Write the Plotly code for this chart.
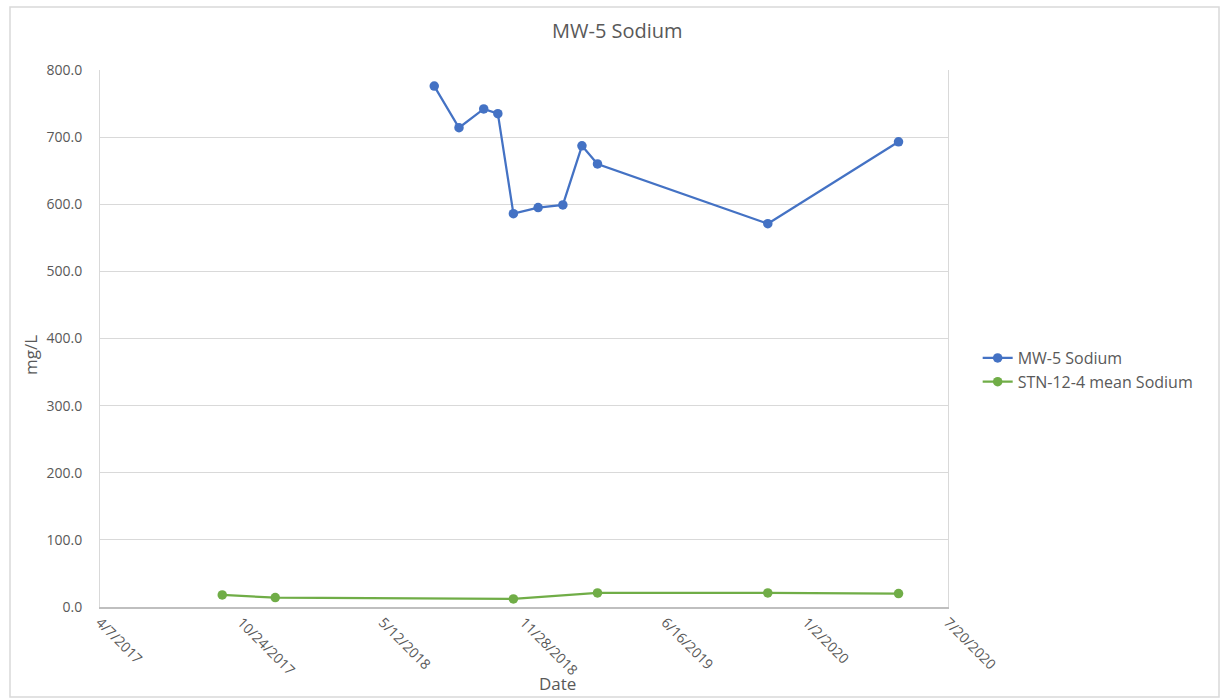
import plotly.graph_objects as go

# MW-5 sodium samples
mw5_dates = ["2018-07-24", "2018-08-28", "2018-10-02", "2018-10-22", "2018-11-13",
             "2018-12-18", "2019-01-22", "2019-02-18", "2019-03-12", "2019-11-08",
             "2020-05-11"]
mw5_sodium = [776, 714, 742, 735, 586, 595, 599, 687, 660, 571, 693]

# STN-12-4 mean sodium
stn_dates = ["2017-09-27", "2017-12-11", "2018-11-13", "2019-03-12", "2019-11-08",
             "2020-05-11"]
stn_sodium = [18, 14, 12, 21, 21, 20]

# Date axis ticks (every 200 days)
x_tickvals = ["2017-04-07", "2017-10-24", "2018-05-12", "2018-11-28", "2019-06-16",
              "2020-01-02", "2020-07-20"]
x_ticktext = ["4/7/2017", "10/24/2017", "5/12/2018", "11/28/2018", "6/16/2019",
              "1/2/2020", "7/20/2020"]
y_tickvals = [0, 100, 200, 300, 400, 500, 600, 700, 800]

FONT = "Open Sans, Noto Sans, sans-serif"
GRAY = "#595959"

fig = go.Figure()
fig.add_trace(go.Scatter(
    x=mw5_dates, y=mw5_sodium, mode="lines+markers", name="MW-5 Sodium",
    line=dict(color="#4472C4", width=2.25),
    marker=dict(color="#4472C4", size=9.5),
))
fig.add_trace(go.Scatter(
    x=stn_dates, y=stn_sodium, mode="lines+markers", name="STN-12-4 mean Sodium",
    line=dict(color="#70AD47", width=2.25),
    marker=dict(color="#70AD47", size=9.5),
))

fig.update_layout(
    width=1220, height=698,
    margin=dict(l=100, r=272, t=70, b=91),
    paper_bgcolor="white", plot_bgcolor="white",
    font=dict(family=FONT, color=GRAY, size=13),
    title=dict(text="MW-5 Sodium", x=0.506, xanchor="center", y=0.955, yanchor="middle",
               font=dict(family=FONT, size=20, color=GRAY)),
    showlegend=True,
    legend=dict(x=1.035, xanchor="left", y=(607 - 370) / 537, yanchor="middle",
                font=dict(family=FONT, size=16, color=GRAY),
                itemwidth=30),
    xaxis=dict(
        type="date", range=["2017-04-07", "2020-07-20"],
        tickmode="array", tickvals=x_tickvals, ticktext=x_ticktext,
        tickangle=45, tickfont=dict(size=14, color=GRAY),
        showgrid=False, zeroline=False,
        showline=True, linecolor="#bfbfbf", linewidth=1.5, mirror=False,
        ticks="", ticklen=0,
    ),
    yaxis=dict(
        range=[0, 800], tickmode="array", tickvals=y_tickvals, tickformat=".1f",
        tickfont=dict(size=14, color=GRAY),
        showgrid=True, gridcolor="#d9d9d9", gridwidth=1,
        zeroline=False, showline=True, linecolor="#d9d9d9", linewidth=1, mirror=True,
        ticks="", ticklabelstandoff=14,
    ),
    annotations=[
        dict(text="Date", xref="paper", yref="paper", x=(557 - 100) / 848, y=-(683 - 607) / 537,
             xanchor="center", yanchor="middle", showarrow=False,
             font=dict(family=FONT, size=17, color=GRAY)),
        dict(text="mg/L", xref="paper", yref="paper", x=-(100 - 30) / 848, y=(607 - 355) / 537,
             xanchor="center", yanchor="middle", showarrow=False, textangle=-90,
             font=dict(family=FONT, size=17, color=GRAY)),
    ],
    shapes=[
        # outer chart border
        dict(type="rect", xref="paper", yref="paper",
             x0=-(100 - 10) / 848, x1=(1219 - 100) / 848,
             y0=-(697 - 607) / 537, y1=(607 - 7) / 537,
             line=dict(color="#d9d9d9", width=1.5), fillcolor="rgba(0,0,0,0)", layer="below"),
    ],
)

fig.write_html("out.html")
